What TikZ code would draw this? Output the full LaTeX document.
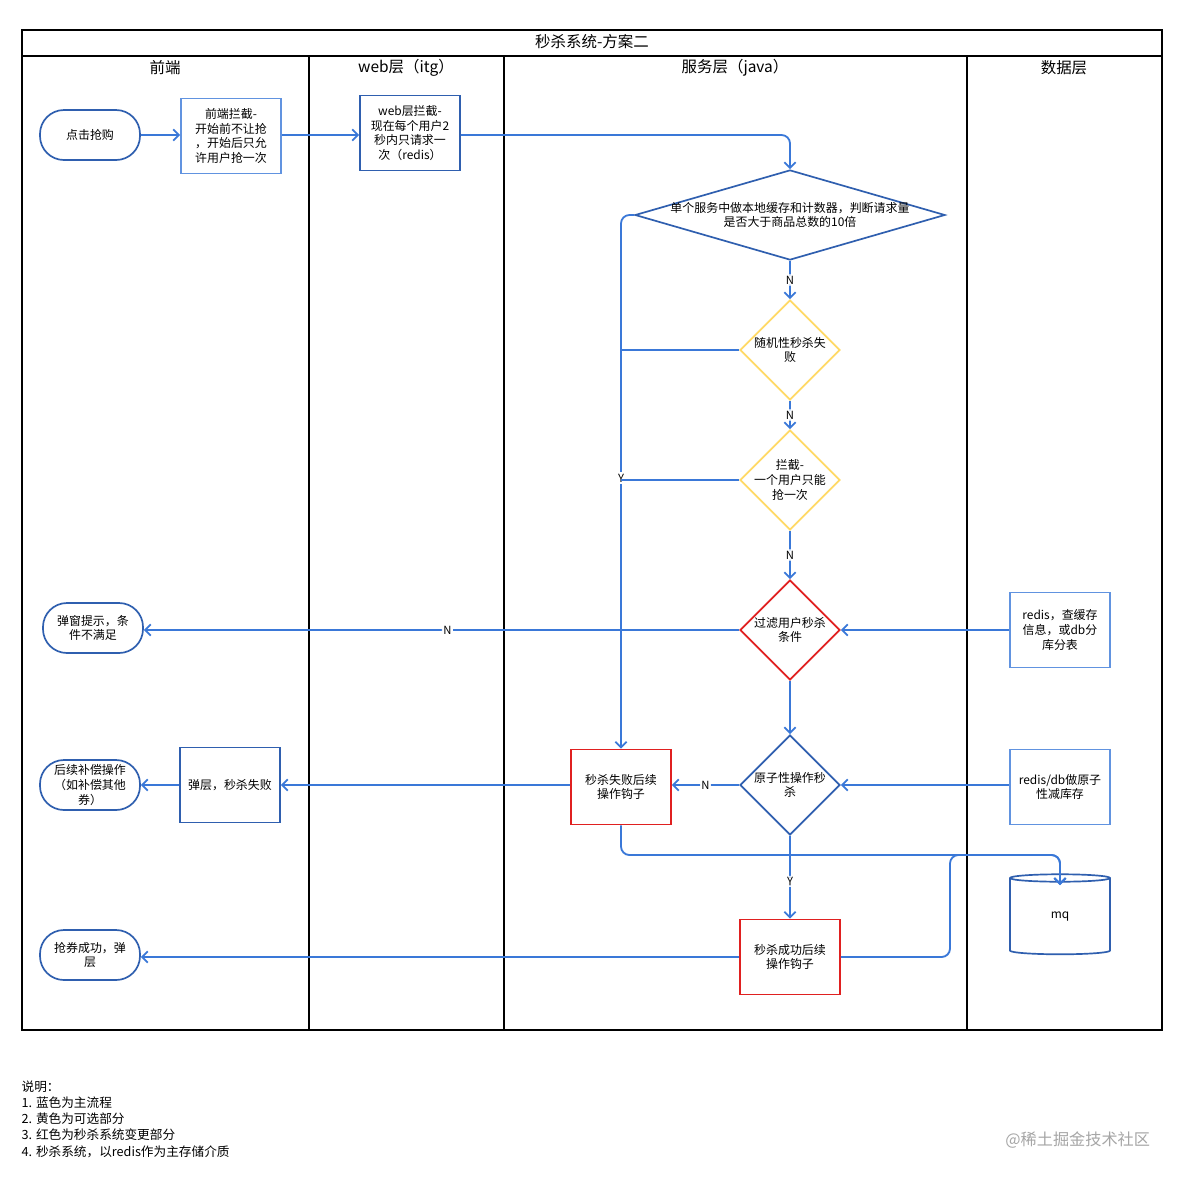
\documentclass[tikz,border=0pt]{standalone}
\usepackage{fontspec}
\setmainfont{Noto Sans CJK SC}
\usetikzlibrary{shapes.geometric,arrows.meta}
\definecolor{ln}{HTML}{3A78D8}
\definecolor{bd}{HTML}{2F5FAF}
\definecolor{yl}{HTML}{FFD966}
\definecolor{rd}{HTML}{E02020}
\begin{document}
\begin{tikzpicture}[x=0.025cm,y=-0.025cm,
  txt/.style={font=\fontsize{8.5}{10.5}\selectfont,align=center,inner sep=1pt},
  box/.style={txt,draw=bd,line width=1.2pt,minimum width=2.5cm,minimum height=1.875cm},
  lbox/.style={box,draw=ln!80},
  rbox/.style={box,draw=rd},
  stad/.style={txt,draw=bd,line width=1.2pt,rounded corners=0.6cm,minimum width=2.5cm,minimum height=1.25cm},
  dia/.style={txt,diamond,draw=bd,line width=1.2pt,minimum width=2.5cm,minimum height=2.5cm,inner sep=-9pt},
  arr/.style={draw=ln,line width=1.3pt,-{Straight Barb[length=4pt]},rounded corners=6pt},
  lab/.style={font=\fontsize{8}{10}\selectfont,fill=white,inner sep=1pt},
  hd/.style={font=\fontsize{11}{13}\selectfont}]
\useasboundingbox (0,0) rectangle (1184,1180);
\fill[white] (0,0) rectangle (1184,1180);
% frame
\draw[line width=1.2pt] (22,30) rectangle (1162,1030);
\draw[line width=1pt] (22,56) -- (1162,56);
\foreach \x in {309,504,967} \draw[line width=1.2pt] (\x,56) -- (\x,1030);
\node[hd] (title) at (592,42) {秒杀系统-方案二};
\node[hd] (h1) at (165,68) {前端};
\node[hd] (h2) at (406,68) {web层（itg）};
\node[hd] (h3) at (735,68) {服务层（java）};
\node[hd] (h4) at (1064,68) {数据层};
% nodes
\node[stad] (click) at (90,135) {点击抢购};
\node[lbox] (fe) at (231,136) {前端拦截-\\开始前不让抢\\，开始后只允\\许用户抢一次};
\node[box] (web) at (410,133) {web层拦截-\\现在每个用户2\\秒内只请求一\\次（redis）};
\node[dia,minimum width=7.75cm,minimum height=2.25cm,aspect=3.4,inner sep=-16pt] (d1) at (790,215) {单个服务中做本地缓存和计数器，判断请求量\\是否大于商品总数的10倍};
\node[dia,draw=yl] (d2) at (790,350) {随机性秒杀失\\败};
\node[dia,draw=yl] (d3) at (790,480) {拦截-\\一个用户只能\\抢一次};
\node[dia,draw=rd] (d4) at (790,630) {过滤用户秒杀\\条件};
\node[dia] (d5) at (790,785) {原子性操作秒\\杀};
\node[rbox] (succ) at (790,957) {秒杀成功后续\\操作钩子};
\node[rbox] (fail) at (621,787) {秒杀失败后续\\操作钩子};
\node[box] (pop) at (230,785) {弹层，秒杀失败};
\node[stad] (tip) at (93,628) {弹窗提示，条\\件不满足};
\node[stad] (comp) at (90,785) {后续补偿操作\\（如补偿其他\\券）};
\node[stad] (win) at (90,955) {抢券成功，弹\\层};
\node[lbox] (redis) at (1060,630) {redis，查缓存\\信息，或db分\\库分表};
\node[lbox] (rdb) at (1060,787) {redis/db做原子\\性减库存};
\node[txt,cylinder,shape border rotate=90,draw=bd,line width=1.2pt,minimum width=2.5cm,minimum height=2cm,aspect=0.35] (mq) at (1060,917) {mq};
\coordinate (mqt) at (1060,885);
% edges
\draw[arr] (click.east) -- (click.east -| fe.west);
\draw[arr] (fe.east |- click.east) -- (click.east -| web.west);
\draw[arr] (web.east |- click.east) -- (790,135) -- (d1.north);
\draw[arr] (d1.west) -- (621,215) -- (fail.north);
\node[lab] (ly) at (621,478) {Y};
\draw[arr,-] (d2.west) -- (621,350);
\draw[arr,-] (d3.west) -- (621,480);
\draw[arr] (d1.south) -- node[lab]{N} (d2.north);
\draw[arr] (d2.south) -- node[lab]{N} (d3.north);
\draw[arr] (d3.south) -- node[lab]{N} (d4.north);
\draw[arr] (d4.south) -- (d5.north);
\draw[arr] (d5.south) -- node[lab,pos=0.55]{Y} (succ.north);
\draw[arr] (d4.west) -- node[lab,pos=0.49]{N} (d4.west -| tip.east);
\draw[arr] (redis.west |- d4.east) -- (d4.east);
\draw[arr] (rdb.west |- d5.east) -- (d5.east);
\draw[arr] (d5.west) -- node[lab]{N} (d5.west -| fail.east);
\draw[arr] (fail.west |- pop.west) -- (pop.east);
\draw[arr] (pop.west) -- (comp.east);
\draw[arr] (fail.south) -- (621,855) -- (1060,855) -- (mqt);
\draw[arr] (succ.east) -- (950,957) -- (950,855) -- (1060,855) -- (mqt);
\draw[arr] (succ.west) -- (succ.west -| win.east);
% legend
\node[txt,font=\fontsize{9}{11.5}\selectfont,align=left,anchor=north west] (leg) at (20,1079) {说明：\\1. 蓝色为主流程\\2. 黄色为可选部分\\3. 红色为秒杀系统变更部分\\4. 秒杀系统，以redis作为主存储介质};
\node[font=\fontsize{11.5}{13}\selectfont,text=gray!70,anchor=east] (wm) at (1155,1140) {@稀土掘金技术社区};
\end{tikzpicture}
\end{document}
